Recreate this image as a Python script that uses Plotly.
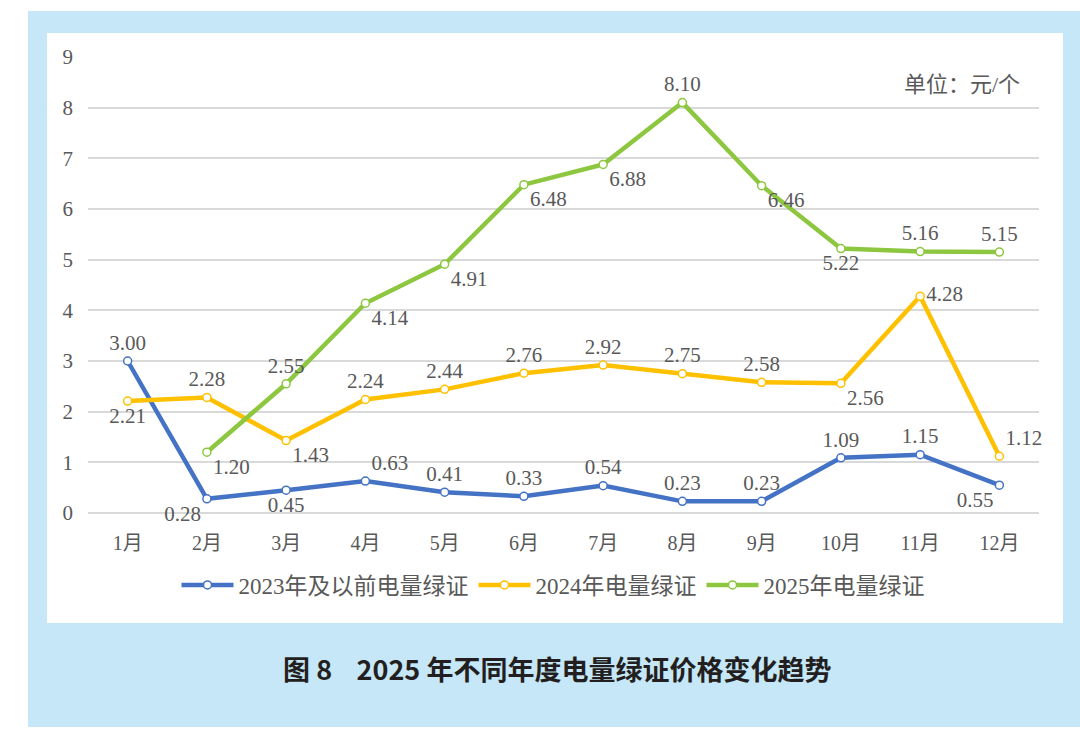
import plotly.graph_objects as go

months = ["1月", "2月", "3月", "4月", "5月", "6月", "7月", "8月", "9月", "10月", "11月", "12月"]
s2023 = [3.00, 0.28, 0.45, 0.63, 0.41, 0.33, 0.54, 0.23, 0.23, 1.09, 1.15, 0.55]
s2024 = [2.21, 2.28, 1.43, 2.24, 2.44, 2.76, 2.92, 2.75, 2.58, 2.56, 4.28, 1.12]
s2025 = [None, 1.20, 2.55, 4.14, 4.91, 6.48, 6.88, 8.10, 6.46, 5.22, 5.16, 5.15]
names = ["2023年及以前电量绿证", "2024年电量绿证", "2025年电量绿证"]
colors = ["#4472C4", "#FFC000", "#8DC63F"]

pos2023 = ["top center", "bottom left", "bottom center", "top right", "top center", "top center",
           "top center", "top center", "top center", "top center", "top center", "bottom left"]
pos2024 = ["bottom center", "top center", "bottom right", "top center", "top center", "top center",
           "top center", "top center", "top center", "bottom right", "middle right", "top right"]
pos2025 = ["top center", "bottom right", "top center", "bottom right", "bottom right", "bottom right",
           "bottom right", "top center", "bottom right", "bottom center", "top center", "top center"]

FONT = "Liberation Serif, Noto Sans CJK SC, serif"
TXT = "#595959"

fig = go.Figure()
for vals, name, col, pos in [(s2023, names[0], colors[0], pos2023),
                             (s2024, names[1], colors[1], pos2024),
                             (s2025, names[2], colors[2], pos2025)]:
    fig.add_trace(go.Scatter(
        x=months, y=vals, name=name, mode="lines+markers+text",
        line=dict(color=col, width=4.5),
        marker=dict(size=8, color="white", line=dict(color=col, width=1.5)),
        text=[f"{v:.2f}" if v is not None else "" for v in vals],
        textposition=pos,
        textfont=dict(family=FONT, size=21, color=TXT),
        cliponaxis=False,
    ))

W, H = 1080, 733
L, R, T, B = 88, 41, 57, 220
pw, ph = W - L - R, H - T - B

def px(x):
    return (x - L) / pw

def py(y):
    return (H - B - y) / ph

shapes = [
    dict(type="rect", xref="paper", yref="paper", layer="below",
         x0=px(28), x1=px(1085), y0=py(727), y1=py(11),
         fillcolor="#C5E7F7", line=dict(width=0)),
    dict(type="rect", xref="paper", yref="paper", layer="below",
         x0=px(47), x1=px(1063), y0=py(623), y1=py(33),
         fillcolor="white", line=dict(width=0)),
]

NB = "\u00a0"
annotations = [
    dict(text="单位：元/个", xref="paper", yref="paper", x=px(1022), y=py(85),
         xanchor="right", yanchor="middle", showarrow=False,
         font=dict(family=FONT, size=22, color=TXT)),
    dict(text=f"<b>图{NB}8{NB*4}2025{NB}年不同年度电量绿证价格变化趋势</b>", xref="paper", yref="paper",
         x=px(557), y=py(668), xanchor="center", yanchor="middle", showarrow=False,
         font=dict(family="Noto Sans CJK SC, sans-serif", size=27, color="#231F20")),
]

fig.update_layout(
    width=W, height=H,
    margin=dict(l=L, r=R, t=T, b=B),
    paper_bgcolor="white", plot_bgcolor="rgba(0,0,0,0)",
    shapes=shapes, annotations=annotations,
    showlegend=True,
    legend=dict(orientation="h", x=px(553), y=py(585), xanchor="center", yanchor="middle",
                font=dict(family=FONT, size=23, color=TXT), bgcolor="rgba(0,0,0,0)",
                itemwidth=52),
    xaxis=dict(range=[-0.5, 11.5], showgrid=False, zeroline=False, showline=False, ticks="",
               tickfont=dict(family=FONT, size=20, color=TXT), ticklabelstandoff=16),
    yaxis=dict(range=[0, 9], dtick=1, showgrid=True, gridcolor="#D9D9D9", gridwidth=1.5,
               zeroline=True, zerolinecolor="#D9D9D9", zerolinewidth=1.5, showline=False,
               tickfont=dict(family=FONT, size=21, color=TXT), ticklabelstandoff=14),
)

fig.write_html("out.html")
